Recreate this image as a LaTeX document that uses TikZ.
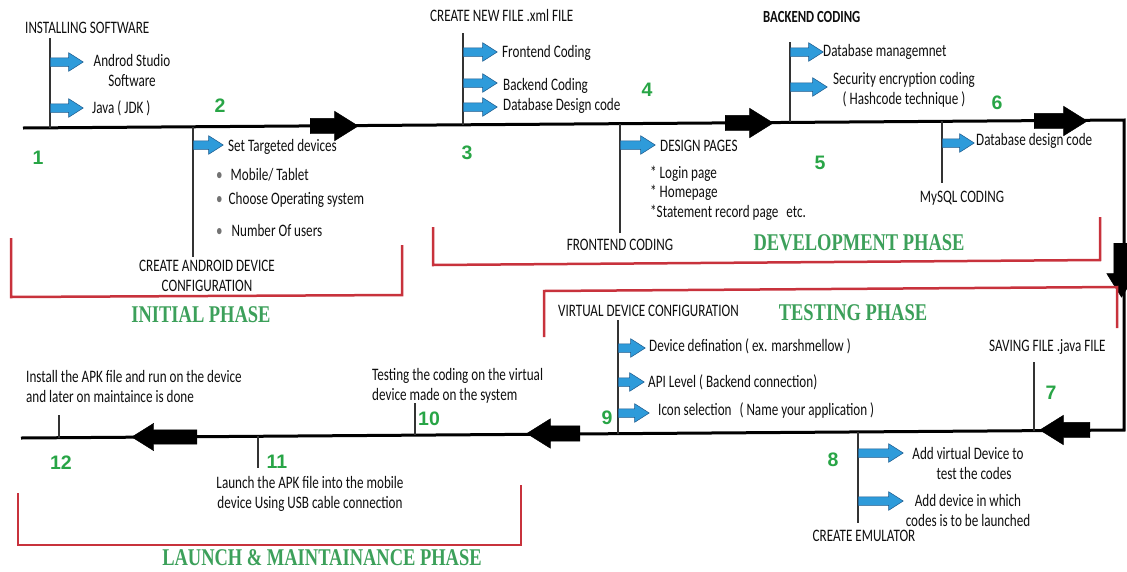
\documentclass[tikz,border=0pt]{standalone}
\usepackage{fontspec}
\setmainfont[FakeStretch=0.75]{Carlito}
\newfontfamily\phasefont[FakeStretch=0.77]{Liberation Serif}
\newfontfamily\numfont{Liberation Sans}
\usetikzlibrary{shapes.arrows}
\definecolor{txt}{RGB}{15,15,15}
\definecolor{bluearr}{RGB}{46,155,218}
\definecolor{bluedge}{RGB}{30,90,140}
\definecolor{redbr}{RGB}{200,50,60}
\definecolor{greentxt}{RGB}{60,160,90}
\definecolor{greennum}{RGB}{40,165,70}
\tikzset{
 lbl/.style={font=\fontsize{17.5}{20}\selectfont, text=txt, inner sep=0pt},
 lblw/.style={lbl, anchor=west},
 phase/.style={font=\phasefont\bfseries\fontsize{24}{26}\selectfont, text=greentxt, inner sep=0pt},
 num/.style={font=\numfont\bfseries\fontsize{19.5}{20}\selectfont, text=greennum, inner sep=0pt},
 tick/.style={draw=black!80, line width=1.1pt},
 mainline/.style={draw=black, line width=3pt},
 bracket/.style={draw=redbr, line width=2.5pt, line join=miter},
 barrow/.style={single arrow, draw=bluedge, fill=bluearr, line width=0.5pt, inner sep=4pt,
   single arrow head extend=5pt, single arrow tip angle=65, anchor=tail, minimum height=#1},
 karrow/.style={single arrow, draw=black, fill=black, inner sep=7.5pt,
   single arrow head extend=7pt, single arrow tip angle=64, anchor=tail, minimum height=#1},
}
\begin{document}
\begin{tikzpicture}[x=1pt,y=-1pt]
\useasboundingbox (0,0) rectangle (1127,571);
\fill[white] (0,0) rectangle (1127,571);

% ---------- main timeline ----------
\coordinate (tl) at (23,128);
\coordinate (tr) at (1124,120);
\coordinate (br) at (1124,430);
\coordinate (bl) at (21,438);
\draw[mainline] (tl) -- (tr) -- (br) -- (bl);

% ---------- tick lines ----------
\coordinate (k1) at (50,127.8);   \coordinate (k1t) at (50,38);
\coordinate (k2) at (193,126.8);  \coordinate (k2t) at (193,257);
\coordinate (k3) at (463,124.8);  \coordinate (k3t) at (463,33);
\coordinate (k4) at (620,123.7);  \coordinate (k4t) at (620,233);
\coordinate (k5) at (790,122.4);  \coordinate (k5t) at (790,42);
\coordinate (k6) at (942,121.3);  \coordinate (k6t) at (942,183);
\coordinate (k7) at (1034,430.7); \coordinate (k7t) at (1034,362);
\coordinate (k8) at (858,431.9);  \coordinate (k8t) at (858,523);
\coordinate (k9) at (618,433.7);  \coordinate (k9t) at (618,320);
\coordinate (k10) at (415,435.1); \coordinate (k10t) at (415,403);
\coordinate (k11) at (258,436.3); \coordinate (k11t) at (258,468);
\coordinate (k12) at (59,437.7);  \coordinate (k12t) at (59,415);
\foreach \i in {1,...,12} \draw[tick] (k\i) -- (k\i t);

% ---------- black flow arrows ----------
\node[karrow=48] (A1) at (310,126) {};
\node[karrow=48] (A2) at (725,123) {};
\node[karrow=53] (A3) at (1034,121) {};
\node[karrow=54, shape border rotate=270] (A4) at (1121.5,243) {};
\node[karrow=50, shape border rotate=180] (A5) at (1090,430) {};
\node[karrow=53, shape border rotate=180] (A6) at (580,433.5) {};
\node[karrow=65, shape border rotate=180, inner sep=7pt, single arrow head extend=6.5pt] (A7) at (197,437) {};

% ---------- blue arrows ----------
\node[barrow=33] (b1a) at (50,62) {};
\node[barrow=33] (b1b) at (50,108) {};
\node[barrow=30] (b2a) at (193,145) {};
\node[barrow=34] (b3a) at (463,52) {};
\node[barrow=34] (b3b) at (463,83) {};
\node[barrow=34] (b3c) at (463,107) {};
\node[barrow=35] (b4a) at (620,145) {};
\node[barrow=33] (b5a) at (790,52) {};
\node[barrow=37] (b5b) at (790,87) {};
\node[barrow=32] (b6a) at (942,143) {};
\node[barrow=27] (b9a) at (618,348) {};
\node[barrow=26] (b9b) at (618,382) {};
\node[barrow=31] (b9c) at (618,413) {};
\node[barrow=45] (b8a) at (858,453) {};
\node[barrow=45] (b8b) at (858,501) {};

% ---------- red phase brackets ----------
\coordinate (r1a) at (11,238);  \coordinate (r1b) at (11,297);
\coordinate (r1c) at (402,295); \coordinate (r1d) at (402,245);
\draw[bracket] (r1a) -- (r1b) -- (r1c) -- (r1d);
\coordinate (r2a) at (433,227); \coordinate (r2b) at (433,265);
\coordinate (r2c) at (1100,260); \coordinate (r2d) at (1100,217);
\draw[bracket] (r2a) -- (r2b) -- (r2c) -- (r2d);
\coordinate (r3a) at (544,337); \coordinate (r3b) at (544,291);
\coordinate (r3c) at (1117,287); \coordinate (r3d) at (1117,328);
\draw[bracket] (r3a) -- (r3b) -- (r3c) -- (r3d);
\coordinate (r4a) at (18,493);  \coordinate (r4b) at (18,545);
\coordinate (r4c) at (521,545); \coordinate (r4d) at (521,485);
\draw[bracket] (r4a) -- (r4b) -- (r4c) -- (r4d);

% ---------- step 1 & 2 ----------
\node[lblw] (t1) at (25,28) {INSTALLING SOFTWARE};
\node[lbl, align=center] (t1a) at (132,70) {Androd Studio\\Software};
\node[lblw] (t1b) at (92,108) {Java ( JDK )};
\node[num] (n1) at (38,158) {1};
\node[num] (n2) at (220,106) {2};
\node[lblw] (t2a) at (228,147) {Set Targeted devices};
\node[lblw] (t2b) at (216,175) {{\color{black!55}\textbullet}\hspace{8pt}Mobile/ Tablet};
\node[lblw] (t2c) at (216,200) {{\color{black!55}\textbullet}\hspace{6pt}Choose Operating system};
\node[lblw] (t2d) at (216,230) {{\color{black!55}\textbullet}\hspace{9pt}Number Of users};
\node[lbl, align=center] (t2) at (207,276) {CREATE ANDROID DEVICE\\CONFIGURATION};
\node[phase] (p1) at (201,315) {INITIAL PHASE};

% ---------- step 3 & 4 ----------
\node[lblw] (t3) at (430,15) {CREATE NEW FILE .xml FILE};
\node[lblw] (t3a) at (502,53) {Frontend Coding};
\node[lblw] (t3b) at (503,86) {Backend Coding};
\node[lblw] (t3c) at (503,106) {Database Design code};
\node[num] (n3) at (467,153) {3};
\node[num] (n4) at (647,90) {4};
\node[lblw] (t4a) at (660,146) {DESIGN PAGES};
\node[lblw] (t4b) at (650,174) {* Login page};
\node[lblw] (t4c) at (650,193) {* Homepage};
\node[lblw] (t4d) at (650,213) {*Statement record page\hspace{5pt} etc.};
\node[lbl] (t4) at (620,245) {FRONTEND CODING};

% ---------- step 5 & 6 ----------
\node[lblw, font=\bfseries\fontsize{17}{20}\selectfont] (t5) at (763,17) {BACKEND CODING};
\node[lblw] (t5a) at (823,52) {Database managemnet};
\node[lbl, align=center] (t5b) at (904,90) {Security encryption coding\\( Hashcode technique )};
\node[num] (n5) at (820,163) {5};
\node[num] (n6) at (997,103) {6};
\node[lblw] (t6a) at (976,141) {Database design code};
\node[lbl] (t6) at (962,198) {MySQL CODING};
\node[phase] (p2) at (859,243) {DEVELOPMENT PHASE};

% ---------- step 7, 8, 9 ----------
\node[phase] (p3) at (853,313) {TESTING PHASE};
\node[lblw] (t9) at (558,311) {VIRTUAL DEVICE CONFIGURATION};
\node[lblw] (t7) at (989,347) {SAVING FILE .java FILE};
\node[num] (n7) at (1051,393) {7};
\node[lblw] (t9a) at (649,346) {Device defination ( ex. marshmellow )};
\node[lblw] (t9b) at (648,382) {API Level ( Backend connection)};
\node[lblw] (t9c) at (658,411) {Icon selection\hspace{5pt} ( Name your application )};
\node[num] (n9) at (607,418) {9};
\node[num] (n8) at (833,460) {8};
\node[lbl, align=center] (t8a) at (968,463) {Add virtual Device to\\\hspace{12pt}test the codes};
\node[lbl, align=center] (t8b) at (968,510) {Add device in which\\codes is to be launched};
\node[lbl] (t8) at (864,536) {CREATE EMULATOR};

% ---------- step 10, 11, 12 ----------
\node[lbl, align=left, anchor=west] (t10) at (372,386) {Testing the coding on the virtual\\device made on the system};
\node[num] (n10) at (429,419) {10};
\node[lbl, align=left, anchor=west] (t12) at (26,386) {Install the APK file and run on the device\\and later on maintaince is done};
\node[num] (n12) at (61,463) {12};
\node[num] (n11) at (277,462) {11};
\node[lbl, align=center] (t11) at (310,494) {Launch the APK file into the mobile\\device Using USB cable connection};
\node[phase] (p4) at (322,558) {LAUNCH \& MAINTAINANCE PHASE};
\end{tikzpicture}
\end{document}
